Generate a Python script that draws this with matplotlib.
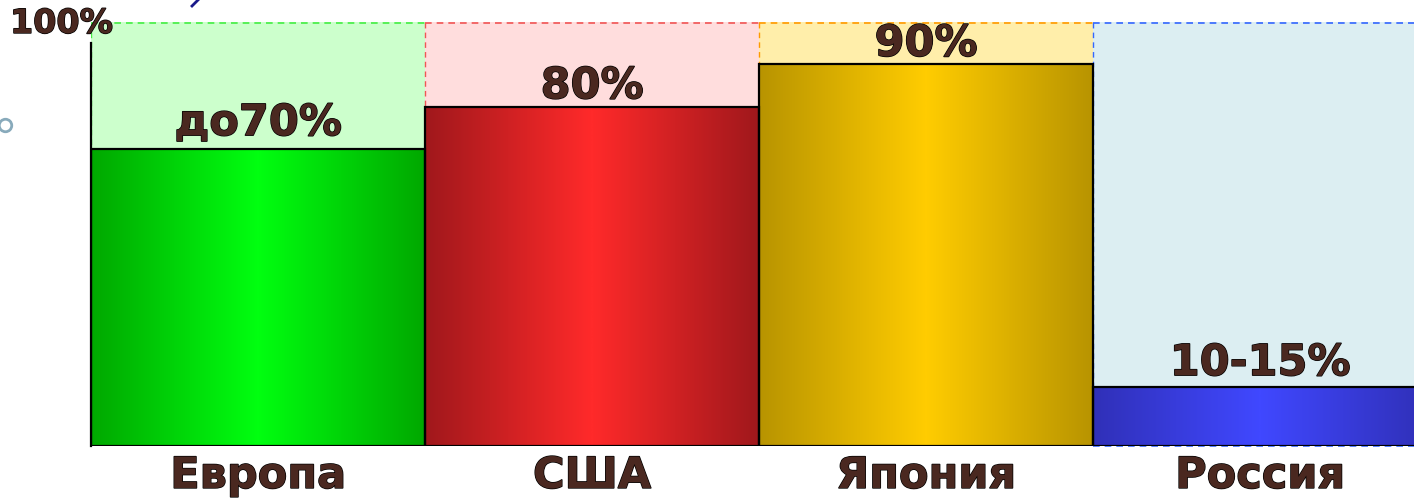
import numpy as np
from matplotlib import pyplot as plt
from matplotlib.colors import LinearSegmentedColormap
import matplotlib.patheffects as pe

# Countries and shares:
countries = ['Европа', 'США', 'Япония', 'Россия']
values = [70, 80, 90, 14]
value_labels = ['до70%', '80%', '90%', '10-15%']

# Colours:
bg_colours = ['#CCFFCC', '#FFDDDD', '#FFEEAA', '#DCEEF2']
dash_colours = ['#44EE44', '#F05555', '#FF9900', '#3366FF']
edge_colours = ['#00A800', '#A0181C', '#B89400', '#3030B8']
centre_colours = ['#00FF10', '#FF2A2A', '#FFCC00', '#4048FF']
textColour = '#4A2820'

W, H = 1414, 500
figure = plt.figure(figsize=(W / 100, H / 100), dpi=100)
ax = figure.add_axes([91 / W, 54 / H, 1323 / W, 424 / H])

x = np.arange(len(countries)) + 0.5
ax.set_xlim(0, 1323 / 334)
ax.set_ylim(0, 100)
ax.axis('off')

outline = [pe.withStroke(linewidth=1.0, foreground='black')]
font = dict(family='DejaVu Sans', weight='bold', color=textColour)

# Light background boxes up to 100%:
ax.bar(x, [100] * len(x), width=1, color=bg_colours, zorder=1)
for xi, c in zip(x, dash_colours):
    ax.plot([xi - 0.5, xi + 0.5], [99.8, 99.8], ls=(0, (4, 3)), color=c, lw=1.2, zorder=4, clip_on=False)
    ax.plot([xi - 0.5, xi - 0.5], [0, 100], ls=(0, (4, 3)), color=c, lw=1.0, zorder=1.5)
ax.plot([3, 4], [0, 0], ls=(0, (4, 3)), color=dash_colours[3], lw=1.2, zorder=1.5, clip_on=False)

# Vertical axis line:
ax.plot([0, 0], [0, 95], color='black', lw=1.6, zorder=3, clip_on=False)

# Bars with a horizontal gradient:
bars = ax.bar(x, values, width=1, facecolor='none', edgecolor='black', lw=1.6, zorder=3)
grad = np.abs(np.linspace(-1, 1, 256))[None, :]
for bar, xi, v, ec, cc in zip(bars, x, values, edge_colours, centre_colours):
    cmap = LinearSegmentedColormap.from_list('g', [cc, ec])
    im = ax.imshow(grad, cmap=cmap, extent=(xi - 0.5, xi + 0.5, 0, v), aspect='auto', zorder=2, interpolation='bilinear')
    im.set_clip_path(bar)

# Value labels:
offsets = [3.3, 2.0, 2.0, 2.7]
for xi, v, lab, off in zip(x, values, value_labels, offsets):
    ax.text(xi, v + off, lab, ha='center', va='baseline', fontsize=31, path_effects=outline, zorder=5, **font)

# Country labels:
for xi, name in zip(x, countries):
    ax.text(xi, -9.9, name, ha='center', va='baseline', fontsize=31, path_effects=outline, clip_on=False, **font)

ax.set_xlim(0, 1323 / 334)

# 100% mark:
figure.text(10 / W, 1 - 33 / H, '100%', ha='left', va='baseline', fontsize=24, path_effects=outline, **font)

# Bullet and stray stroke at the slide edge:
figure.add_artist(plt.Line2D([5 / W], [1 - 125 / H], marker='o', ms=9, mfc='none', mec='#88AABB', mew=2))
figure.add_artist(plt.Line2D([192 / W, 198 / W], [1 - 6 / H, 1.0], color='#1A1A8A', lw=2))

plt.savefig('out.png', dpi=100)
plt.close()
